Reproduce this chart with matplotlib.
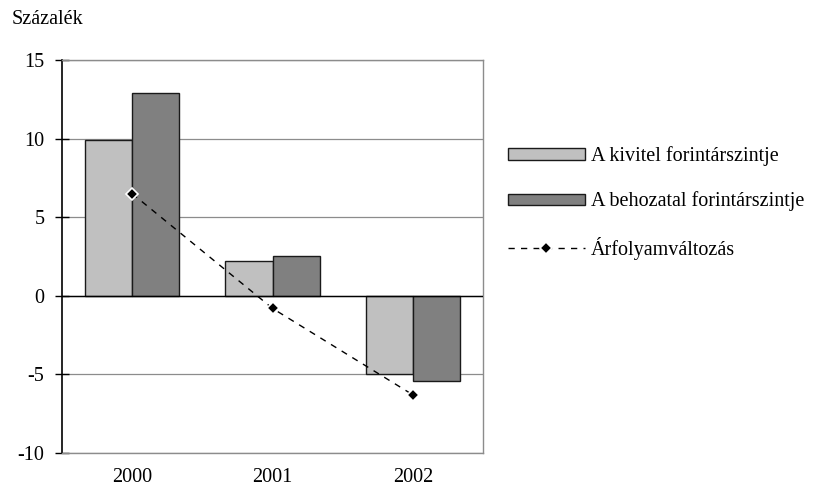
import matplotlib
matplotlib.use("Agg")
import matplotlib.pyplot as plt
import numpy as np

years = ["2000", "2001", "2002"]
export_level = [9.9, 2.2, -5.0]
import_level = [12.9, 2.5, -5.4]
exchange_change = [6.5, -0.8, -6.3]
y_ticks = [-10, -5, 0, 5, 10, 15]

label_export = "A kivitel forintárszintje"
label_import = "A behozatal forintárszintje"
label_fx = "Árfolyamváltozás"
y_unit = "Százalék"

plt.rcParams["font.family"] = ["Liberation Serif", "DejaVu Serif"]
FS = 14.5

fig = plt.figure(figsize=(8.15, 4.93), dpi=100)
ax = fig.add_axes([62 / 815, 1 - 453 / 493, (483 - 62) / 815, (453 - 60) / 493])

x = np.arange(len(years))
w = 0.335
b1 = ax.bar(x - w / 2, export_level, width=w, color="#C0C0C0", edgecolor="#1a1a1a",
            linewidth=1.0, zorder=3, label=label_export)
b2 = ax.bar(x + w / 2, import_level, width=w, color="#808080", edgecolor="#1a1a1a",
            linewidth=1.0, zorder=3, label=label_import)
ln, = ax.plot(x, exchange_change, color="black", linewidth=1.0, linestyle=(0, (4.5, 4.5)),
              marker="D", markersize=6.5, markerfacecolor="black", markeredgecolor="white",
              markeredgewidth=1.2, zorder=4, label=label_fx)

ax.set_xlim(-0.5, 2.5)
ax.set_ylim(-10, 15)
ax.set_yticks(y_ticks)
ax.set_yticklabels([str(t) for t in y_ticks], fontsize=FS)
ax.set_xticks(x)
ax.set_xticklabels(years, fontsize=FS)

ax.grid(axis="y", color="#8c8c8c", linewidth=0.9, zorder=0)
ax.axhline(0, color="black", linewidth=1.0, zorder=3.5)

for side in ("top", "right", "bottom"):
    ax.spines[side].set_color("#8c8c8c")
    ax.spines[side].set_linewidth(1.0)
ax.spines["left"].set_color("black")
ax.spines["left"].set_linewidth(1.2)

ax.tick_params(axis="y", direction="inout", length=9.5, width=1.0, pad=8, colors="black")
ax.tick_params(axis="x", length=0, pad=11)

fig.text(12 / 815, 1 - 20 / 493, y_unit, fontsize=FS, ha="left", va="center")

ax.legend(handles=[b1, b2, ln], loc="center left",
          bbox_to_anchor=(508 / 815, 1 - 203 / 493),
          bbox_transform=fig.transFigure, frameon=False, fontsize=FS,
          handlelength=3.8, handleheight=0.5, handletextpad=0.3,
          labelspacing=1.25, borderpad=0, borderaxespad=0)

fig.savefig("out.png", dpi=100)
